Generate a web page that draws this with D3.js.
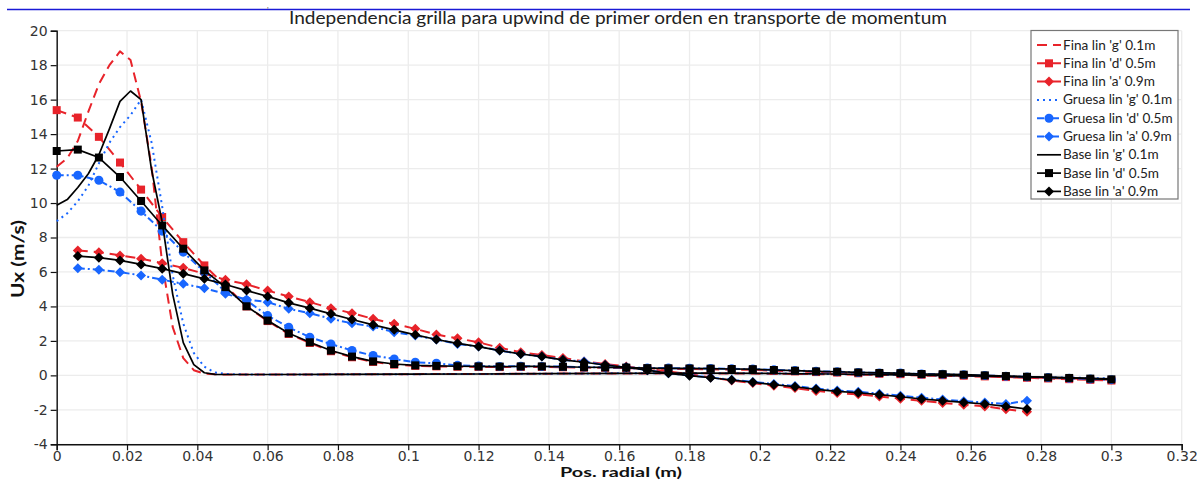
<!DOCTYPE html>
<html><head><meta charset="utf-8">
<script src="https://cdn.jsdelivr.net/npm/d3@7"></script>
<style>body{margin:0;background:#fff}svg{display:block}</style>
</head><body>
<svg id="c" width="1197" height="480"></svg>
<script>
// ---------- data ----------
const chartTitle = "Independencia grilla para upwind de primer orden en transporte de momentum";
const xLabel = "Pos. radial (m)";
const yLabel = "Ux (m/s)";
const xTicks = [0,0.02,0.04,0.06,0.08,0.1,0.12,0.14,0.16,0.18,0.2,0.22,0.24,0.26,0.28,0.3,0.32];
const xTickLabels = ["0","0.02","0.04","0.06","0.08","0.1","0.12","0.14","0.16","0.18","0.2","0.22","0.24","0.26","0.28","0.3","0.32"];
const yTicks = [-4,-2,0,2,4,6,8,10,12,14,16,18,20];
const yTickLabels = ["-4","-2","0","2","4","6","8","10","12","14","16","18","20"];

// x positions for line 'g' (0.1 m)
const xG = [0,0.003,0.006,0.009,0.012,0.015,0.018,0.021,0.024,0.027,0.03,0.033,0.036,0.039,0.042,0.045,0.048,0.051,
            0.06,0.08,0.1,0.12,0.14,0.16,0.18,0.2,0.22,0.24,0.26,0.28,0.3];
// x positions for line 'd' (0.5 m)
const xD = [0,0.006,0.012,0.018,0.024,0.03,0.036,0.042,0.048,0.054,0.06,0.066,0.072,0.078,0.084,0.09,0.096,0.102,0.108,0.114,
            0.12,0.126,0.132,0.138,0.144,0.15,0.156,0.162,0.168,0.174,0.18,0.186,0.192,0.198,0.204,0.21,0.216,0.222,0.228,0.234,
            0.24,0.246,0.252,0.258,0.264,0.27,0.276,0.282,0.288,0.294,0.3];
// x positions for line 'a' (0.9 m)
const xA = [0.006,0.012,0.018,0.024,0.03,0.036,0.042,0.048,0.054,0.06,0.066,0.072,0.078,0.084,0.09,0.096,0.102,0.108,0.114,
            0.12,0.126,0.132,0.138,0.144,0.15,0.156,0.162,0.168,0.174,0.18,0.186,0.192,0.198,0.204,0.21,0.216,0.222,0.228,0.234,
            0.24,0.246,0.252,0.258,0.264,0.27,0.276];

const finaG = [12.1,12.6,13.6,15.3,16.9,18.0,18.8,18.3,15.9,12.1,6.5,2.8,1.0,0.3,0.1,0.06,0.05,0.05,
               0.05,0.06,0.07,0.08,0.10,0.11,0.12,0.10,0.06,0.01,-0.06,-0.14,-0.25];
const finaD = [15.39,14.96,13.84,12.35,10.78,9.19,7.73,6.38,5.2,4.0,3.15,2.40,1.88,1.40,1.05,0.78,0.62,0.55,0.52,0.50,
               0.49,0.48,0.49,0.49,0.47,0.45,0.44,0.42,0.40,0.38,0.37,0.35,0.33,0.32,0.27,0.23,0.19,0.16,0.12,0.09,
               0.07,0.03,0.01,-0.02,-0.06,-0.10,-0.14,-0.18,-0.22,-0.26,-0.30];
const finaA = [7.25,7.15,6.96,6.77,6.51,6.24,5.90,5.55,5.28,4.92,4.58,4.25,3.90,3.61,3.28,2.99,2.70,2.37,2.15,1.92,
               1.60,1.34,1.18,1.01,0.81,0.66,0.52,0.37,0.22,0.07,-0.12,-0.30,-0.45,-0.60,-0.74,-0.90,-1.03,-1.10,-1.22,-1.35,
               -1.48,-1.60,-1.71,-1.80,-1.96,-2.11];

const gruesaG = [8.95,9.4,10.1,11.0,12.3,13.5,14.4,15.1,16.0,13.5,9.8,5.8,3.0,1.3,0.5,0.17,0.08,0.06,
                 0.05,0.06,0.07,0.08,0.10,0.12,0.13,0.12,0.08,0.03,-0.03,-0.10,-0.18];
const gruesaD = [11.61,11.61,11.32,10.64,9.53,8.37,7.15,6.0,4.85,4.35,3.47,2.79,2.21,1.82,1.44,1.15,0.95,0.76,0.70,0.58,
                 0.54,0.52,0.53,0.52,0.51,0.48,0.47,0.45,0.43,0.42,0.41,0.40,0.38,0.37,0.32,0.28,0.24,0.21,0.17,0.14,
                 0.13,0.08,0.06,0.03,-0.01,-0.05,-0.09,-0.13,-0.17,-0.21,-0.25];
const gruesaA = [6.22,6.13,5.99,5.80,5.55,5.31,5.06,4.73,4.40,4.25,3.86,3.61,3.28,3.02,2.83,2.50,2.31,2.08,1.82,1.67,
                 1.44,1.24,1.09,0.90,0.80,0.60,0.47,0.30,0.12,0.0,-0.12,-0.26,-0.38,-0.50,-0.62,-0.76,-0.88,-0.95,-1.06,-1.18,
                 -1.30,-1.40,-1.50,-1.57,-1.66,-1.47];

const baseG = [9.87,10.2,10.9,11.7,12.8,14.3,15.9,16.5,16.0,11.9,8.9,4.7,1.9,0.62,0.15,0.06,0.05,0.05,
               0.05,0.06,0.07,0.08,0.10,0.12,0.13,0.12,0.08,0.03,-0.03,-0.10,-0.20];
const baseD = [13.02,13.10,12.64,11.51,10.12,8.70,7.35,6.09,5.12,4.01,3.18,2.44,1.92,1.44,1.09,0.81,0.66,0.58,0.55,0.53,
               0.52,0.51,0.52,0.52,0.50,0.47,0.46,0.45,0.42,0.41,0.40,0.39,0.37,0.36,0.31,0.27,0.23,0.21,0.17,0.14,
               0.13,0.08,0.07,0.04,0.00,-0.04,-0.08,-0.12,-0.15,-0.19,-0.23];
const baseA = [6.92,6.83,6.67,6.44,6.19,5.90,5.60,5.27,4.92,4.58,4.21,3.90,3.57,3.24,2.93,2.64,2.35,2.08,1.86,1.67,
               1.44,1.24,1.09,0.90,0.76,0.60,0.47,0.30,0.12,-0.02,-0.14,-0.27,-0.40,-0.54,-0.66,-0.81,-0.93,-1.01,-1.12,-1.24,
               -1.37,-1.47,-1.57,-1.66,-1.80,-1.95];

const seriesNames = ["Fina lin 'g' 0.1m","Fina lin 'd' 0.5m","Fina lin 'a' 0.9m",
                     "Gruesa lin 'g' 0.1m","Gruesa lin 'd' 0.5m","Gruesa lin 'a' 0.9m",
                     "Base lin 'g' 0.1m","Base lin 'd' 0.5m","Base lin 'a' 0.9m"];

// ---------- styles ----------
const RED = "#e8232a", BLUE = "#1866ff", BLACK = "#000000";
const series = [
  {name:seriesNames[0], xs:xG, ys:finaG,   color:RED,   dash:"10,6",     marker:null},
  {name:seriesNames[1], xs:xD, ys:finaD,   color:RED,   dash:"10,6",     marker:"square"},
  {name:seriesNames[2], xs:xA, ys:finaA,   color:RED,   dash:"10,6",     marker:"diamond"},
  {name:seriesNames[3], xs:xG, ys:gruesaG, color:BLUE,  dash:"2,4",      marker:null},
  {name:seriesNames[4], xs:xD, ys:gruesaD, color:BLUE,  dash:"7,3,2,3",  marker:"circle"},
  {name:seriesNames[5], xs:xA, ys:gruesaA, color:BLUE,  dash:"7,3,2,3",  marker:"diamond"},
  {name:seriesNames[6], xs:xG, ys:baseG,   color:BLACK, dash:null,       marker:null},
  {name:seriesNames[7], xs:xD, ys:baseD,   color:BLACK, dash:null,       marker:"square"},
  {name:seriesNames[8], xs:xA, ys:baseA,   color:BLACK, dash:null,       marker:"diamond"}
];

const FONT = "Lato, 'DejaVu Sans', sans-serif";
const svg = d3.select("#c");
const x = d3.scaleLinear().domain([0,0.32]).range([56.7,1181.7]);
const y = d3.scaleLinear().domain([-4,20]).range([444.3,30.7]);

// top page rule and fragment
svg.append("line").attr("x1",7).attr("x2",1190).attr("y1",9.5).attr("y2",9.5)
  .attr("stroke","#1a1ad6").attr("stroke-width",1.4);
svg.append("text").attr("x",267).attr("y",7.5).attr("font-family",FONT).attr("font-size",7).attr("fill","#444").text(",");

// grid
const grid = svg.append("g");
grid.selectAll("line.gx").data(xTicks).join("line")
  .attr("x1",d=>x(d)).attr("x2",d=>x(d)).attr("y1",y(20)).attr("y2",y(-4))
  .attr("stroke","#ececec").attr("stroke-width",1.3);
grid.selectAll("line.gy").data(yTicks).join("line")
  .attr("x1",x(0)).attr("x2",x(0.32)).attr("y1",d=>y(d)).attr("y2",d=>y(d))
  .attr("stroke","#ececec").attr("stroke-width",1.3);

// axes
const xAxis = d3.axisBottom(x).tickValues(xTicks).tickSize(6).tickPadding(1)
  .tickFormat((d,i)=>xTickLabels[i]);
const yAxis = d3.axisLeft(y).tickValues(yTicks).tickSize(6).tickPadding(3)
  .tickFormat((d,i)=>yTickLabels[i]);
const gx = svg.append("g").attr("transform",`translate(0,${y(-4)})`).call(xAxis);
const gy = svg.append("g").attr("transform",`translate(${x(0)},0)`).call(yAxis);
[gx,gy].forEach(g=>{
  g.select(".domain").attr("stroke","#111").attr("stroke-width",1.4);
  g.selectAll(".tick line").attr("stroke","#111").attr("stroke-width",1.2);
  g.selectAll(".tick text").attr("font-family","'DejaVu Sans', sans-serif").attr("font-size",14).attr("fill","#333");
});

// series
const plot = svg.append("g");
const line = d3.line().x(d=>x(d[0])).y(d=>y(d[1]));
function markerPath(type){
  if(type==="square") return "M-4,-4H4V4H-4Z";
  if(type==="diamond") return "M0,-5L5,0L0,5L-5,0Z";
  if(type==="circle") return d3.symbol(d3.symbolCircle, 64)();
  return null;
}
series.forEach(s=>{
  const pts = s.xs.map((xv,i)=>[xv,s.ys[i]]);
  plot.append("path").datum(pts).attr("d",line).attr("fill","none")
    .attr("stroke",s.color).attr("stroke-width",s.color===BLACK?1.7:2)
    .attr("stroke-dasharray",s.dash).attr("stroke-linejoin","round");
  if(s.marker){
    plot.append("g").selectAll("path").data(pts).join("path")
      .attr("d",markerPath(s.marker))
      .attr("transform",d=>`translate(${x(d[0])},${y(d[1])})`)
      .attr("fill",s.color);
  }
});

// title
svg.append("text").attr("x",618).attr("y",24).attr("text-anchor","middle")
  .attr("font-family",FONT).attr("font-size",16.5).attr("fill","#222")
  .attr("textLength",658).attr("lengthAdjust","spacingAndGlyphs").text(chartTitle);
// axis labels
svg.append("text").attr("x",621).attr("y",476.5).attr("text-anchor","middle")
  .attr("font-family",FONT).attr("font-weight","bold").attr("font-size",13.5).attr("fill","#111")
  .attr("textLength",122).attr("lengthAdjust","spacingAndGlyphs").text(xLabel);
svg.append("text").attr("transform","translate(24,259) rotate(-90)").attr("text-anchor","middle")
  .attr("font-family",FONT).attr("font-weight","bold").attr("font-size",16.5).attr("fill","#111")
  .attr("textLength",78).attr("lengthAdjust","spacingAndGlyphs").text(yLabel);

// legend
const lg = svg.append("g").attr("transform","translate(1031,30.5)");
lg.append("rect").attr("x",0).attr("y",0).attr("width",147).attr("height",168.5)
  .attr("fill","#fff").attr("stroke","#777").attr("stroke-width",1.2);
series.forEach((s,i)=>{
  const cy = 14.5 + i*18.3;
  lg.append("line").attr("x1",6).attr("x2",30).attr("y1",cy).attr("y2",cy)
    .attr("stroke",s.color).attr("stroke-width",s.color===BLACK?1.7:2).attr("stroke-dasharray",s.dash);
  if(s.marker){
    lg.append("path").attr("d",markerPath(s.marker)).attr("transform",`translate(18,${cy})`).attr("fill",s.color);
  }
  lg.append("text").attr("x",32).attr("y",cy+4.5).attr("font-family",FONT).attr("font-size",13.6)
    .attr("fill","#222").text(s.name);
});
</script>
</body></html>
